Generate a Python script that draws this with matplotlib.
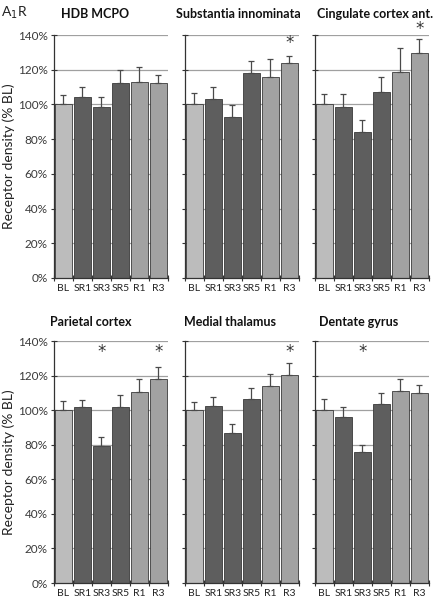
import matplotlib
matplotlib.use("Agg")
import matplotlib.pyplot as plt
import numpy as np

plt.rcParams['font.family'] = ['Lato', 'DejaVu Sans']

groups = ["BL", "SR1", "SR3", "SR5", "R1", "R3"]
titles = ["HDB MCPO", "Substantia innominata", "Cingulate cortex ant.",
          "Parietal cortex", "Medial thalamus", "Dentate gyrus"]

hdb_mean = [100, 104.0, 98.7, 112.5, 112.9, 112.5]
hdb_err = [5.4, 6.2, 5.7, 7.5, 8.8, 4.4]
si_mean = [100, 103.3, 92.9, 118.1, 115.8, 123.7]
si_err = [6.5, 6.5, 6.7, 7.1, 10.4, 4.0]
cing_mean = [100, 98.7, 84.2, 107.3, 118.7, 129.4]
cing_err = [6.0, 7.3, 7.0, 8.5, 13.6, 8.5]
par_mean = [100, 101.7, 79.5, 102.1, 110.7, 117.8]
par_err = [5.3, 4.4, 4.7, 6.9, 7.1, 7.4]
thal_mean = [100, 102.6, 86.7, 106.5, 113.8, 120.1]
thal_err = [4.8, 4.8, 5.2, 6.1, 6.9, 6.9]
dg_mean = [100, 96.1, 75.7, 103.6, 110.9, 110.1]
dg_err = [6.3, 5.6, 4.4, 6.2, 7.1, 4.6]

means = [hdb_mean, si_mean, cing_mean, par_mean, thal_mean, dg_mean]
errs = [hdb_err, si_err, cing_err, par_err, thal_err, dg_err]
# significance stars: (bar index, y position in %)
stars = [[], [(5, 136.5)], [(5, 144.5)], [(2, 134.8), (5, 134.8)], [(5, 134.8)], [(2, 134.8)]]
title_x = [0.36, 0.465, 0.53, 0.32, 0.395, 0.386]

colors = ["#bcbcbc", "#5e5e5e", "#5e5e5e", "#5e5e5e", "#a2a2a2", "#a2a2a2"]

fig = plt.figure(figsize=(4.35, 6.0), dpi=100)
lefts = [54 / 435, 185 / 435, 315 / 435]
width = 114 / 435
rows = [(1 - 278 / 600, (278 - 35) / 600), (1 - 583 / 600, (583 - 341) / 600)]
title_y = [14, 322]

x = np.arange(len(groups))
for i in range(6):
    r, c = divmod(i, 3)
    ax = fig.add_axes([lefts[c], rows[r][0], width, rows[r][1]])
    for yv in np.arange(20, 141, 20):
        ax.axhline(yv, color="#a0a0a0", lw=0.9, zorder=0)
    ax.bar(x, means[i], width=0.93, color=colors, edgecolor="#3a3a3a",
           linewidth=0.6, zorder=2)
    ax.errorbar(x, means[i], yerr=[np.zeros(6), errs[i]], fmt="none",
                ecolor="#4a4a4a", elinewidth=0.9, capsize=2.5, capthick=0.9,
                zorder=3)
    for (bi, yv) in stars[i]:
        ax.text(bi, yv, "*", ha="center", va="center_baseline", fontsize=12,
                family="DejaVu Sans", color="#333333", clip_on=False)
    ax.set_xlim(-0.5, 5.5)
    ax.set_ylim(0, 140)
    ax.set_yticks(np.arange(0, 141, 20))
    if c == 0:
        ax.set_yticklabels([f"{v}%" for v in range(0, 141, 20)], fontsize=8.5,
                           color="#3a3a3a")
        ax.set_ylabel("Receptor density (% BL)", fontsize=10, color="#222222",
                      va="center")
        ax.yaxis.set_label_coords(-0.40, 0.5)
    else:
        ax.set_yticklabels([])
    ax.set_xticks(x)
    ax.set_xticklabels(groups, fontsize=7.5, color="#222222")
    ax.set_xticks(np.arange(-0.5, 6, 1), minor=True)
    ax.tick_params(axis="x", which="major", length=0, pad=4)
    ax.tick_params(axis="x", which="minor", direction="inout", length=5,
                   width=0.8, color="#333333")
    ax.tick_params(axis="y", direction="inout", length=5, width=0.8,
                   color="#333333", pad=2)
    for s in ["top", "right"]:
        ax.spines[s].set_visible(False)
    for s in ["left", "bottom"]:
        ax.spines[s].set_color("#333333")
        ax.spines[s].set_linewidth(0.9)
    fx = lefts[c] + title_x[i] * width
    fig.text(fx, 1 - title_y[r] / 600, titles[i], fontsize=9,
             fontweight="bold", color="#111111", ha="center", va="center")

fig.text(0.002, 0.978, "A$_1$R", fontsize=10, color="#222222", va="center")
fig.savefig("out.png", dpi=100)
